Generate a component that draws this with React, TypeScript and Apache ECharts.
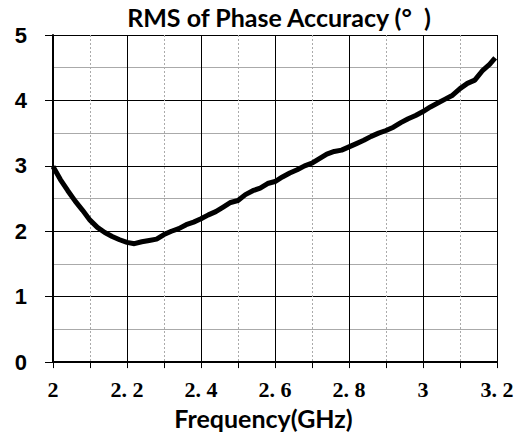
import React, { useEffect, useRef } from "react";
import * as echarts from "echarts";

const frequency = [
  2.0, 2.02, 2.04, 2.06, 2.08, 2.1, 2.12, 2.14, 2.16, 2.18,
  2.2, 2.22, 2.24, 2.26, 2.28, 2.3, 2.32, 2.34, 2.36, 2.38,
  2.4, 2.42, 2.44, 2.46, 2.48, 2.5, 2.52, 2.54, 2.56, 2.58,
  2.6, 2.62, 2.64, 2.66, 2.68, 2.7, 2.72, 2.74, 2.76, 2.78,
  2.8, 2.82, 2.84, 2.86, 2.88, 2.9, 2.92, 2.94, 2.96, 2.98,
  3.0, 3.02, 3.04, 3.06, 3.08, 3.1, 3.12, 3.14, 3.16, 3.18, 3.195,
];
const rmsPhase = [
  2.99, 2.79, 2.62, 2.46, 2.32, 2.17, 2.06, 1.98, 1.92, 1.87,
  1.83, 1.81, 1.84, 1.86, 1.88, 1.95, 2.0, 2.04, 2.1, 2.14,
  2.19, 2.25, 2.3, 2.37, 2.44, 2.47, 2.56, 2.62, 2.66, 2.73,
  2.76, 2.83, 2.89, 2.94, 3.0, 3.04, 3.11, 3.18, 3.22, 3.24,
  3.29, 3.34, 3.39, 3.45, 3.5, 3.54, 3.59, 3.66, 3.72, 3.77,
  3.83, 3.9, 3.96, 4.02, 4.08, 4.18, 4.26, 4.31, 4.45, 4.55, 4.65,
];
const titleText = "RMS of Phase Accuracy (°  )";
const xAxisName = "Frequency(GHz)";

export default function App() {
  const ref = useRef<HTMLDivElement>(null);
  useEffect(() => {
    document.body.style.margin = "0";
    const chart = echarts.init(ref.current!, null, { renderer: "svg" });
    const data = frequency.map((f, i) => [f, rmsPhase[i]]);
    chart.setOption({
      animation: false,
      backgroundColor: "#ffffff",
      title: {
        text: titleText,
        left: 279,
        top: 3,
        padding: 0,
        textAlign: "center",
        textStyle: {
          fontFamily: "Lato",
          fontWeight: "bold",
          fontSize: 25,
          lineHeight: 28,
          color: "#000",
        },
      },
      grid: { left: 53, right: 24, top: 35, bottom: 72, containLabel: false },
      xAxis: {
        type: "value",
        min: 2,
        max: 3.2,
        interval: 0.2,
        name: xAxisName,
        nameLocation: "middle",
        nameGap: 41,
        nameTextStyle: {
          fontFamily: "Lato",
          fontWeight: "bold",
          fontSize: 25,
          color: "#000",
          padding: [0, 23, 0, 0],
        },
        axisLine: { show: true, lineStyle: { color: "#000", width: 2 } },
        axisTick: { show: true, length: 6, lineStyle: { color: "#000", width: 1 } },
        minorTick: { show: true, splitNumber: 2, length: 6, lineStyle: { color: "#000", width: 1 } },
        axisLabel: {
          margin: 16,
          fontFamily: "Liberation Serif",
          fontWeight: "bold",
          fontSize: 22,
          color: "#000",
          formatter: (v: number) => String(Math.round(v * 10) / 10).replace(".", ". "),
        },
        splitLine: { show: true, lineStyle: { color: "#000", width: 1 } },
        minorSplitLine: { show: true, lineStyle: { color: "#aaa", width: 1, type: [2, 2] } },
      },
      yAxis: {
        type: "value",
        min: 0,
        max: 5,
        interval: 1,
        axisLine: { show: true, lineStyle: { color: "#000", width: 2 } },
        axisTick: { show: true, length: 8, lineStyle: { color: "#000", width: 1 } },
        minorTick: { show: false, splitNumber: 2 },
        axisLabel: {
          margin: 26,
          fontFamily: "Liberation Sans",
          fontWeight: "bold",
          fontSize: 22,
          color: "#000",
        },
        splitLine: { show: true, lineStyle: { color: "#000", width: 1 } },
        minorSplitLine: { show: true, lineStyle: { color: "#aaa", width: 1 } },
      },
      series: [
        {
          type: "line",
          data,
          showSymbol: false,
          symbol: "none",
          lineStyle: { color: "#000", width: 5 },
          z: 5,
        },
      ],
    });
    return () => chart.dispose();
  }, []);
  return <div ref={ref} style={{ width: 521, height: 435 }} />;
}
